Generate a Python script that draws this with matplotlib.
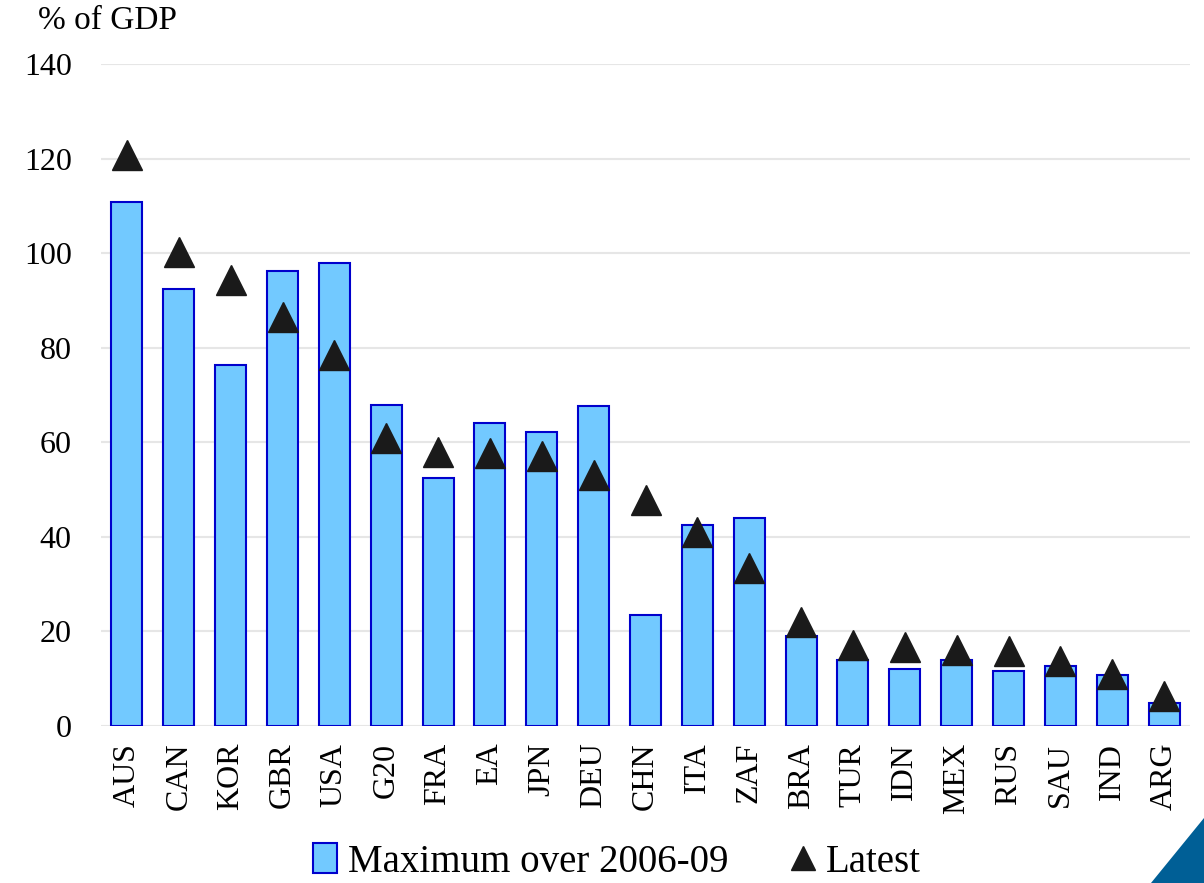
import matplotlib.pyplot as plt
from matplotlib.patches import Patch, Polygon
from matplotlib.lines import Line2D

countries = ['AUS', 'CAN', 'KOR', 'GBR', 'USA', 'G20', 'FRA', 'EA', 'JPN', 'DEU', 'CHN',
             'ITA', 'ZAF', 'BRA', 'TUR', 'IDN', 'MEX', 'RUS', 'SAU', 'IND', 'ARG']
max_2006_09 = [110.8, 92.5, 76.4, 96.3, 98.0, 67.8, 52.4, 64.0, 62.2, 67.7, 23.5,
               42.5, 43.9, 19.0, 13.9, 12.1, 13.9, 11.6, 12.7, 10.8, 4.9]
latest = [120.8, 100.3, 94.3, 86.4, 78.4, 60.9, 58.0, 57.8, 57.1, 53.1, 47.9,
          41.1, 33.5, 22.0, 17.2, 16.8, 16.0, 15.9, 13.7, 11.0, 6.4]
yticks = [0, 20, 40, 60, 80, 100, 120, 140]

bar_fill = '#72c9ff'
bar_edge = '#0000cc'
tri_col = '#1a1a1a'

plt.rcParams['font.family'] = ['Liberation Serif', 'DejaVu Serif']


def main():
    fig = plt.figure(figsize=(12.04, 8.83), dpi=100)
    W, H = 1204, 883
    ax = fig.add_axes([101 / W, (H - 726) / H, (1190 - 101) / W, (726 - 64) / H])

    x = list(range(len(countries)))
    ax.bar(x, max_2006_09, width=0.6, color=bar_fill, edgecolor=bar_edge,
           linewidth=1.5, zorder=2)
    ax.plot(x, latest, linestyle='none', marker='^', markersize=22,
            color=tri_col, zorder=3)

    ax.set_xlim(-0.5, len(countries) - 0.5)
    ax.set_ylim(0, 140)
    ax.set_yticks(yticks)
    ax.set_xticks(x)
    ax.set_xticklabels(countries, rotation=90, fontsize=23)
    ax.tick_params(axis='y', labelsize=23, length=0, pad=21)
    ax.tick_params(axis='x', length=0, pad=12)
    ax.yaxis.grid(True, color='#e6e6e6', linewidth=1.5, zorder=0)
    ax.set_axisbelow(True)
    for s in ax.spines.values():
        s.set_visible(False)

    fig.text(38 / W, 1 - 21 / H, '% of GDP', fontsize=24, va='center', ha='left')

    handles = [Patch(facecolor=bar_fill, edgecolor=bar_edge, linewidth=1.5),
               Line2D([], [], linestyle='none', marker='^', markersize=17, color=tri_col)]
    fig.legend(handles, ['Maximum over 2006-09', 'Latest'], loc='center',
               bbox_to_anchor=(617 / W, 1 - 862 / H), ncol=2, frameon=False,
               fontsize=28, handlelength=0.6, handleheight=0.8, handletextpad=0.3,
               columnspacing=1.6, borderpad=0)

    # corner decoration
    corner = Polygon([(1151 / W, 0), (1, 0), (1, 1 - 818 / H)], closed=True,
                     transform=fig.transFigure, facecolor='#005f96', edgecolor='none')
    fig.patches.append(corner)

    fig.savefig('out.png', dpi=100)


if __name__ == "__main__":
    main()
